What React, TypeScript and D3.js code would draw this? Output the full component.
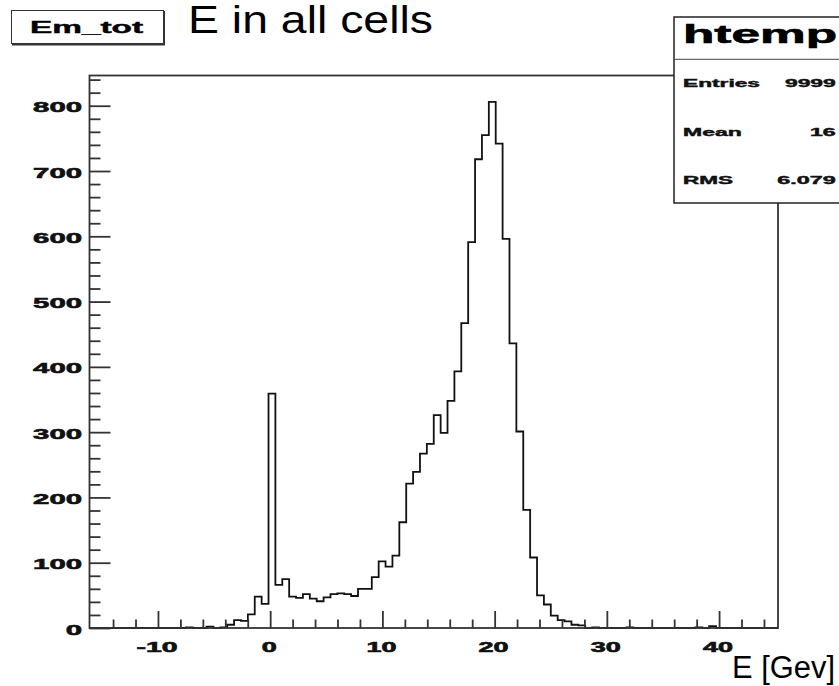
import React, { useEffect, useRef } from "react"
import * as d3 from "d3"

// histogram "htemp" : 100 bins of Em_tot
const xMin = -16.1
const xMax = 45.25
const binCounts = [
  0, 0, 0, 0, 0, 0, 0, 0, 0, 0,
  0, 0, 0, 0, 1, 0, 0, 2, 0, 1,
  5, 12, 11, 21, 48, 37, 359, 66, 75, 48,
  46, 52, 45, 41, 47, 52, 53, 52, 49, 60,
  60, 78, 102, 94, 111, 162, 221, 239, 267, 282,
  326, 299, 348, 393, 467, 591, 718, 755, 806, 742,
  596, 436, 301, 181, 108, 50, 36, 19, 12, 10,
  5, 4, 0, 1, 0, 0, 0, 0, 1, 0,
  0, 0, 0, 0, 0, 0, 0, 0, 1, 0,
  3, 0, 0, 0, 0, 0, 0, 0, 0, 0,
]
const xMajorTicks = [-10, 0, 10, 20, 30, 40]
const xMinorTicks = [-14, -12, -8, -6, -4, -2, 2, 4, 6, 8, 12, 14, 16, 18, 22, 24, 26, 28, 32, 34, 36, 38, 42, 44]
const yMajorTicks = [0, 100, 200, 300, 400, 500, 600, 700, 800]
const yMinorTicks = [20, 40, 60, 80, 120, 140, 160, 180, 220, 240, 260, 280, 320, 340, 360, 380,
  420, 440, 460, 480, 520, 540, 560, 580, 620, 640, 660, 680, 720, 740, 760, 780, 820, 840]
const statNames = ["Entries", "Mean", "RMS"]
const statValues = ["9999", "16", "6.079"]

const FONT = "'Liberation Sans', Arial, Helvetica, sans-serif"

export default function App() {
  const ref = useRef<SVGSVGElement>(null)

  useEffect(() => {
    const svg = d3.select(ref.current)
    svg.selectAll("*").remove()

    const left = 89.5, right = 778, top = 75.5, bottom = 628
    const yMax = (d3.max(binCounts) as number) * 1.05
    const binW = (xMax - xMin) / binCounts.length

    const x = d3.scaleLinear().domain([xMin, xMax]).range([left, right])
    const y = d3.scaleLinear().domain([0, yMax]).range([bottom, top])

    svg.append("rect").attr("width", 839).attr("height", 686).attr("fill", "white")

    // histogram contour
    const pts: [number, number][] = [[xMin, 0]]
    binCounts.forEach((c, i) => {
      pts.push([xMin + i * binW, c])
      pts.push([xMin + (i + 1) * binW, c])
    })
    pts.push([xMax, 0])
    const line = d3.line<[number, number]>().x(d => x(d[0])).y(d => y(d[1]))
    svg.append("path")
      .attr("d", line(pts))
      .attr("fill", "none")
      .attr("stroke", "#111")
      .attr("stroke-width", 1.8)
      .attr("stroke-linejoin", "miter")

    // axes ticks (ROOT style, pointing inward)
    const axisColor = "#333"
    const gx = svg.append("g").attr("transform", `translate(0,${bottom})`)
    gx.call(d3.axisBottom(x).tickValues(xMajorTicks).tickSize(-17).tickFormat(() => ""))
    gx.append("g").call(d3.axisBottom(x).tickValues(xMinorTicks).tickSize(-8.5).tickFormat(() => ""))
    const gy = svg.append("g").attr("transform", `translate(${left},0)`)
    gy.call(d3.axisLeft(y).tickValues(yMajorTicks).tickSize(-21).tickFormat(() => ""))
    gy.append("g").call(d3.axisLeft(y).tickValues(yMinorTicks).tickSize(-11).tickFormat(() => ""))
    svg.selectAll(".domain").remove()
    svg.selectAll(".tick line").attr("stroke", axisColor).attr("stroke-width", 1.8)

    // frame
    svg.append("rect")
      .attr("x", left).attr("y", top)
      .attr("width", right - left).attr("height", bottom - top)
      .attr("fill", "none").attr("stroke", axisColor).attr("stroke-width", 1.8)

    // tick labels (stretched bold, like the ROOT output)
    const labelW = (s: string) => s.split("").reduce((a, ch) => a + (ch === "-" ? 11 : 15), 0)
    svg.append("g")
      .selectAll("text")
      .data(xMajorTicks)
      .join("text")
      .attr("x", d => x(d) - labelW(String(d)) / 2 - 1)
      .attr("y", 652)
      .attr("font-family", FONT).attr("font-weight", "bold").attr("font-size", 14)
      .attr("fill", "#111").attr("stroke", "#111").attr("stroke-width", 0.6)
      .attr("textLength", d => labelW(String(d)))
      .attr("lengthAdjust", "spacingAndGlyphs")
      .text(d => String(d))

    svg.append("g")
      .selectAll("text")
      .data(yMajorTicks)
      .join("text")
      .attr("x", d => 82 - String(d).length * 16.3)
      .attr("y", d => y(d) + 6.5)
      .attr("font-family", FONT).attr("font-weight", "bold").attr("font-size", 15)
      .attr("fill", "#111").attr("stroke", "#111").attr("stroke-width", 0.6)
      .attr("textLength", d => String(d).length * 16.3)
      .attr("lengthAdjust", "spacingAndGlyphs")
      .text(d => String(d))

    // x title
    svg.append("text")
      .attr("x", 732).attr("y", 678)
      .attr("font-family", FONT).attr("font-size", 31)
      .attr("textLength", 103).attr("lengthAdjust", "spacingAndGlyphs")
      .text("E [Gev]")

    // title box
    svg.append("rect")
      .attr("x", 11.5).attr("y", 10.5).attr("width", 152).attr("height", 33)
      .attr("fill", "white").attr("stroke", "#333").attr("stroke-width", 1)
    svg.append("path")
      .attr("d", "M164,11 V44.5 H12")
      .attr("fill", "none").attr("stroke", "#333").attr("stroke-width", 2)
    svg.append("text")
      .attr("x", 30).attr("y", 33.3)
      .attr("font-family", FONT).attr("font-weight", "bold").attr("font-size", 16)
      .attr("stroke", "#000").attr("stroke-width", 0.4)
      .attr("textLength", 113).attr("lengthAdjust", "spacingAndGlyphs")
      .text("Em_tot")
    svg.append("text")
      .attr("x", 188).attr("y", 33.3)
      .attr("font-family", FONT).attr("font-size", 38)
      .attr("textLength", 245).attr("lengthAdjust", "spacingAndGlyphs")
      .text("E in all cells")

    // stats box
    const sb = svg.append("g")
    sb.append("rect")
      .attr("x", 674).attr("y", 17).attr("width", 180).attr("height", 186)
      .attr("fill", "white").attr("stroke", "#222").attr("stroke-width", 1.5)
    sb.append("line")
      .attr("x1", 674).attr("x2", 839).attr("y1", 59.3).attr("y2", 59.3)
      .attr("stroke", "#444").attr("stroke-width", 1)
    sb.append("text")
      .attr("x", 683).attr("y", 43.3)
      .attr("font-family", FONT).attr("font-weight", "bold").attr("font-size", 25)
      .attr("stroke", "#000").attr("stroke-width", 0.6)
      .attr("textLength", 154).attr("lengthAdjust", "spacingAndGlyphs")
      .text("htemp")
    const nameW = [77, 58.7, 50]
    const valW = [50.7, 25.7, 58.4]
    const rowY = [86.7, 136, 184.3]
    statNames.forEach((n, i) => {
      sb.append("text")
        .attr("x", 683).attr("y", rowY[i])
        .attr("font-family", FONT).attr("font-weight", "bold").attr("font-size", 10)
        .attr("fill", "#111").attr("stroke", "#111").attr("stroke-width", 0.4)
        .attr("textLength", nameW[i]).attr("lengthAdjust", "spacingAndGlyphs")
        .text(n)
      sb.append("text")
        .attr("x", 835.7 - valW[i]).attr("y", rowY[i])
        .attr("font-family", FONT).attr("font-weight", "bold").attr("font-size", 10)
        .attr("fill", "#111").attr("stroke", "#111").attr("stroke-width", 0.4)
        .attr("textLength", valW[i]).attr("lengthAdjust", "spacingAndGlyphs")
        .text(statValues[i])
    })
  }, [])

  return (
    <svg
      ref={ref}
      width={839}
      height={686}
      style={{ position: "absolute", left: 0, top: 0, display: "block" }}
    ></svg>
  )
}
